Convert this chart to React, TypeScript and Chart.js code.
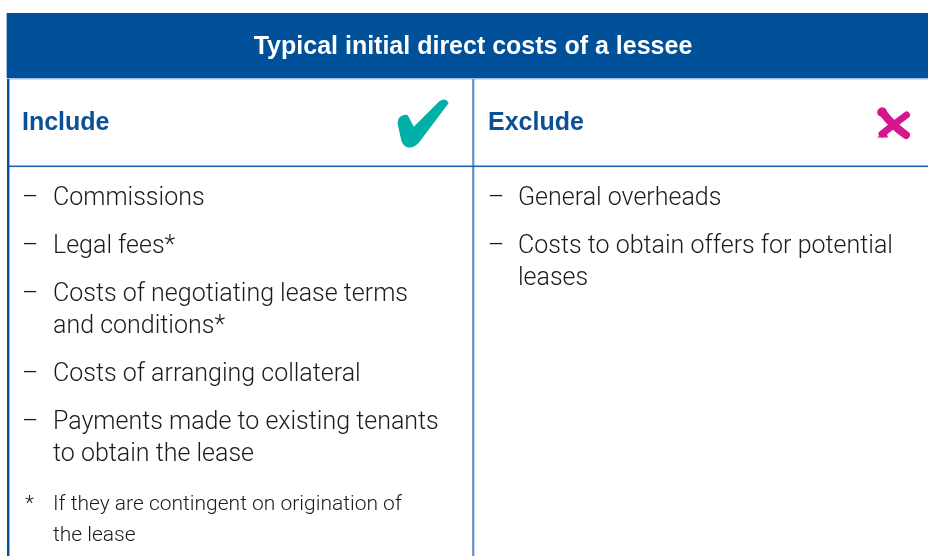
import React, { useEffect, useRef } from "react";
import { Chart, registerables } from "chart.js";

Chart.register(...registerables);

const title = "Typical initial direct costs of a lessee";
const columnHeads = ["Include", "Exclude"];
const includeItems: string[][] = [
  ["Commissions"],
  ["Legal fees*"],
  ["Costs of negotiating lease terms", "and conditions*"],
  ["Costs of arranging collateral"],
  ["Payments made to existing tenants", "to obtain the lease"],
];
const excludeItems: string[][] = [
  ["General overheads"],
  ["Costs to obtain offers for potential", "leases"],
];
const footnoteMark = "*";
const footnoteLines = ["If they are contingent on origination of", "the lease"];

const W = 928;
const H = 556;

const BLUE = "#00509A";
const HEAD_BLUE = "#0A4F98";
const TEXT = "#1b1b1b";
const TEAL = "#00B0A6";
const MAGENTA = "#D5168F";
const BODY_FONT = "300 25px Roboto, 'Liberation Sans', sans-serif";
const NOTE_FONT = "300 21px Roboto, 'Liberation Sans', sans-serif";
const BOLD_FONT = "bold 25px 'Liberation Sans', Arial, sans-serif";

const tablePlugin = {
  id: "tablePlugin",
  afterDraw(chart: any) {
    const ctx: CanvasRenderingContext2D = chart.ctx;
    const sx = chart.scales.x;
    const sy = chart.scales.y;
    const X = (v: number) => sx.getPixelForValue(v);
    const Y = (v: number) => sy.getPixelForValue(v);

    ctx.save();
    // header band
    ctx.fillStyle = BLUE;
    ctx.fillRect(X(7), Y(13), X(W) - X(7), Y(78) - Y(13));
    ctx.fillStyle = "#9FC0E2";
    ctx.fillRect(X(6), Y(13), 1, Y(78) - Y(13));
    ctx.fillRect(X(7), Y(78), X(W) - X(7), 1.5);

    // left border
    ctx.fillStyle = "#0B4E98";
    ctx.fillRect(X(7), Y(79), 2, Y(H) - Y(79));
    ctx.fillStyle = "#8DB2DB";
    ctx.fillRect(X(9), Y(79), 1, Y(H) - Y(79));

    // column divider
    ctx.fillStyle = "#93B2D6";
    ctx.fillRect(X(472), Y(79), 2.5, Y(H) - Y(79));
    ctx.fillStyle = "#4D7FBB";
    ctx.fillRect(X(472.7), Y(79), 1, Y(H) - Y(79));

    // row line
    ctx.fillStyle = "#1E62AE";
    ctx.fillRect(X(9), Y(165.5), X(W) - X(9), 1.6);

    // title
    ctx.fillStyle = "#ffffff";
    ctx.font = BOLD_FONT;
    ctx.textAlign = "center";
    ctx.textBaseline = "alphabetic";
    ctx.fillText(title, X(473), Y(54));

    // column heads
    ctx.fillStyle = HEAD_BLUE;
    ctx.textAlign = "left";
    ctx.fillText(columnHeads[0], X(22), Y(130));
    ctx.fillText(columnHeads[1], X(488), Y(130));

    // check mark
    ctx.fillStyle = TEAL;
    ctx.strokeStyle = TEAL;
    ctx.lineJoin = "round";
    ctx.lineWidth = 2;
    ctx.beginPath();
    ctx.moveTo(X(399.5), Y(119));
    ctx.quadraticCurveTo(X(403), Y(115), X(407), Y(116));
    ctx.lineTo(X(413.5), Y(128.5));
    ctx.lineTo(X(440), Y(102));
    ctx.quadraticCurveTo(X(445), Y(98.5), X(447.5), Y(103));
    ctx.lineTo(X(419), Y(141));
    ctx.quadraticCurveTo(X(413), Y(148), X(407), Y(146));
    ctx.quadraticCurveTo(X(403), Y(144), X(402), Y(139));
    ctx.lineTo(X(398.5), Y(123));
    ctx.closePath();
    ctx.fill();
    ctx.stroke();

    // cross mark
    ctx.strokeStyle = MAGENTA;
    ctx.fillStyle = MAGENTA;
    ctx.lineCap = "round";
    ctx.lineWidth = 8;
    ctx.beginPath();
    ctx.moveTo(X(883), Y(113));
    ctx.quadraticCurveTo(X(893), Y(126), X(906), Y(135));
    ctx.stroke();
    ctx.lineWidth = 7;
    ctx.beginPath();
    ctx.moveTo(X(906.5), Y(115));
    ctx.quadraticCurveTo(X(894), Y(124), X(882), Y(134));
    ctx.stroke();
    ctx.beginPath();
    ctx.ellipse(X(882), Y(112), 5, 4.5, -0.6, 0, Math.PI * 2);
    ctx.fill();
    ctx.beginPath();
    ctx.moveTo(X(877), Y(137.5));
    ctx.lineTo(X(886), Y(131));
    ctx.lineTo(X(888), Y(137.5));
    ctx.closePath();
    ctx.fill();

    // body items
    ctx.fillStyle = TEXT;
    ctx.font = BODY_FONT;
    ctx.textAlign = "left";
    const drawItems = (items: string[][], dashX: number, textX: number) => {
      let base = 205;
      items.forEach((lines) => {
        ctx.fillText("\u2013", X(dashX), Y(base));
        lines.forEach((ln, i) => {
          ctx.fillText(ln, X(textX), Y(base + i * 32));
        });
        base += (lines.length - 1) * 32 + 48;
      });
      return base;
    };
    drawItems(includeItems, 22, 53);
    drawItems(excludeItems, 488, 518);

    // footnote
    ctx.font = NOTE_FONT;
    ctx.fillText(footnoteMark, X(25), Y(510));
    footnoteLines.forEach((ln, i) => ctx.fillText(ln, X(53), Y(510 + i * 31)));

    ctx.restore();
  },
};

export default function App() {
  const ref = useRef<HTMLCanvasElement | null>(null);
  useEffect(() => {
    if (!ref.current) return;
    const chart = new Chart(ref.current, {
      type: "scatter",
      data: { datasets: [{ data: [], pointRadius: 0 }] },
      options: {
        animation: false,
        responsive: false,
        events: [],
        layout: { padding: 0 },
        plugins: { legend: { display: false }, tooltip: { enabled: false }, title: { display: false } },
        scales: {
          x: { type: "linear", min: 0, max: W, display: false },
          y: { type: "linear", min: 0, max: H, reverse: true, display: false },
        },
      },
      plugins: [tablePlugin],
    });
    return () => chart.destroy();
  }, []);
  return (
    <div style={{ position: "absolute", left: 0, top: 0, width: W, height: H, background: "#fff" }}>
      <canvas ref={ref} width={W} height={H} style={{ display: "block", width: W, height: H }} />
    </div>
  );
}
